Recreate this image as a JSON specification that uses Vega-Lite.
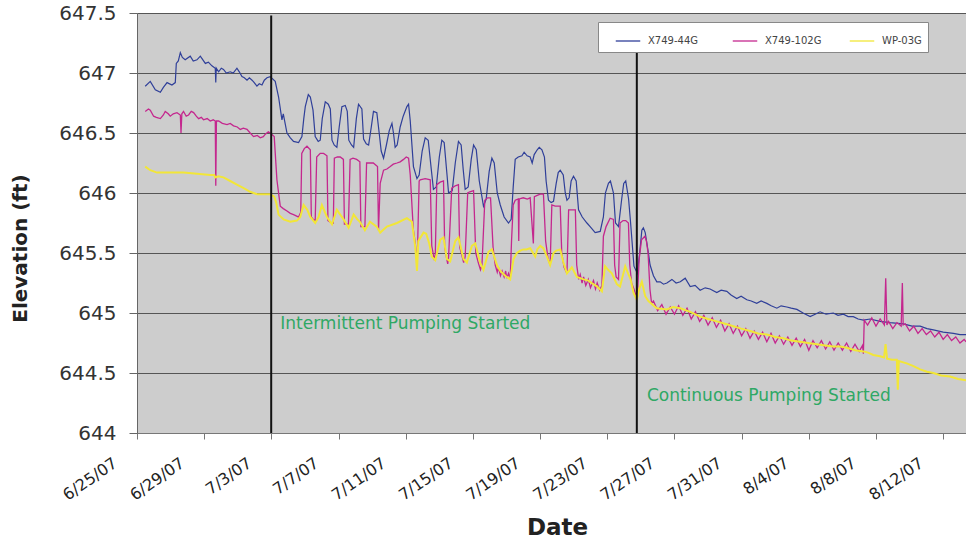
{
  "$schema": "https://vega.github.io/schema/vega-lite/v6.json",
  "width": 829,
  "height": 420,
  "autosize": {"type": "none"},
  "padding": {"left": 137, "top": 13, "right": 0, "bottom": 108},
  "background": "white",
  "config": {
    "view": {"fill": "#cdcdcd", "stroke": null},
    "font": "DejaVu Sans"
  },
  "datasets": {
    "blue": [
      {"d":0.49,"v":646.89},{"d":0.79,"v":646.93},{"d":1.09,"v":646.86},{"d":1.39,"v":646.84},{"d":1.57,"v":646.88},{"d":1.79,"v":646.92},{"d":2.08,"v":646.90},{"d":2.28,"v":646.92},{"d":2.34,"v":647.08},{"d":2.46,"v":647.10},{"d":2.58,"v":647.17},{"d":2.70,"v":647.13},{"d":2.87,"v":647.11},{"d":3.17,"v":647.14},{"d":3.35,"v":647.10},{"d":3.57,"v":647.11},{"d":3.77,"v":647.14},{"d":4.07,"v":647.08},{"d":4.25,"v":647.09},{"d":4.46,"v":647.06},{"d":4.66,"v":647.04},{"d":4.69,"v":646.92},{"d":4.72,"v":647.04},{"d":4.86,"v":647.01},{"d":5.02,"v":647.04},{"d":5.15,"v":647.03},{"d":5.32,"v":647.00},{"d":5.55,"v":647.01},{"d":5.73,"v":647.00},{"d":5.95,"v":647.04},{"d":6.09,"v":647.01},{"d":6.25,"v":646.97},{"d":6.39,"v":646.96},{"d":6.55,"v":646.94},{"d":6.69,"v":646.96},{"d":6.85,"v":646.94},{"d":6.98,"v":646.92},{"d":7.14,"v":646.89},{"d":7.28,"v":646.91},{"d":7.44,"v":646.90},{"d":7.58,"v":646.94},{"d":7.74,"v":646.96},{"d":7.93,"v":646.97},{"d":8.23,"v":646.93},{"d":8.43,"v":646.80},{"d":8.63,"v":646.61},{"d":8.71,"v":646.66},{"d":8.93,"v":646.50},{"d":9.13,"v":646.46},{"d":9.32,"v":646.43},{"d":9.62,"v":646.42},{"d":9.82,"v":646.47},{"d":9.93,"v":646.62},{"d":10.02,"v":646.72},{"d":10.2,"v":646.82},{"d":10.32,"v":646.80},{"d":10.48,"v":646.69},{"d":10.61,"v":646.47},{"d":10.79,"v":646.43},{"d":10.91,"v":646.44},{"d":11.03,"v":646.62},{"d":11.21,"v":646.76},{"d":11.39,"v":646.74},{"d":11.51,"v":646.70},{"d":11.61,"v":646.44},{"d":11.74,"v":646.40},{"d":11.9,"v":646.38},{"d":12.04,"v":646.55},{"d":12.2,"v":646.72},{"d":12.4,"v":646.73},{"d":12.52,"v":646.68},{"d":12.61,"v":646.44},{"d":12.77,"v":646.40},{"d":12.9,"v":646.38},{"d":13.06,"v":646.62},{"d":13.19,"v":646.74},{"d":13.39,"v":646.70},{"d":13.49,"v":646.45},{"d":13.65,"v":646.41},{"d":13.79,"v":646.40},{"d":13.95,"v":646.55},{"d":14.08,"v":646.68},{"d":14.28,"v":646.67},{"d":14.42,"v":646.50},{"d":14.54,"v":646.35},{"d":14.68,"v":646.29},{"d":14.85,"v":646.40},{"d":15.02,"v":646.52},{"d":15.18,"v":646.58},{"d":15.27,"v":646.50},{"d":15.37,"v":646.38},{"d":15.49,"v":646.40},{"d":15.67,"v":646.55},{"d":15.85,"v":646.64},{"d":16.07,"v":646.72},{"d":16.17,"v":646.74},{"d":16.27,"v":646.60},{"d":16.46,"v":646.22},{"d":16.67,"v":646.12},{"d":16.8,"v":646.15},{"d":16.98,"v":646.35},{"d":17.16,"v":646.46},{"d":17.34,"v":646.44},{"d":17.52,"v":646.20},{"d":17.65,"v":646.03},{"d":17.82,"v":646.05},{"d":18.0,"v":646.30},{"d":18.15,"v":646.44},{"d":18.29,"v":646.42},{"d":18.46,"v":646.15},{"d":18.55,"v":646.00},{"d":18.77,"v":646.02},{"d":18.95,"v":646.25},{"d":19.14,"v":646.43},{"d":19.3,"v":646.40},{"d":19.42,"v":646.20},{"d":19.54,"v":646.03},{"d":19.72,"v":646.05},{"d":19.9,"v":646.28},{"d":20.04,"v":646.40},{"d":20.2,"v":646.36},{"d":20.38,"v":646.10},{"d":20.63,"v":645.89},{"d":20.79,"v":645.95},{"d":20.97,"v":646.18},{"d":21.13,"v":646.29},{"d":21.27,"v":646.25},{"d":21.45,"v":646.00},{"d":21.63,"v":645.90},{"d":21.86,"v":645.80},{"d":22.12,"v":645.75},{"d":22.28,"v":645.78},{"d":22.4,"v":646.05},{"d":22.52,"v":646.28},{"d":22.7,"v":646.30},{"d":22.92,"v":646.31},{"d":23.05,"v":646.34},{"d":23.23,"v":646.31},{"d":23.41,"v":646.30},{"d":23.53,"v":646.25},{"d":23.65,"v":646.32},{"d":23.83,"v":646.36},{"d":23.95,"v":646.38},{"d":24.11,"v":646.36},{"d":24.26,"v":646.30},{"d":24.36,"v":646.10},{"d":24.5,"v":645.94},{"d":24.66,"v":645.92},{"d":24.8,"v":645.93},{"d":24.96,"v":646.08},{"d":25.08,"v":646.17},{"d":25.2,"v":646.19},{"d":25.38,"v":646.15},{"d":25.5,"v":646.00},{"d":25.6,"v":645.94},{"d":25.73,"v":645.96},{"d":25.85,"v":646.10},{"d":25.99,"v":646.14},{"d":26.15,"v":646.10},{"d":26.29,"v":645.86},{"d":26.51,"v":645.80},{"d":26.79,"v":645.75},{"d":26.98,"v":645.72},{"d":27.28,"v":645.67},{"d":27.58,"v":645.68},{"d":27.77,"v":645.80},{"d":27.89,"v":646.00},{"d":28.07,"v":646.08},{"d":28.19,"v":646.10},{"d":28.37,"v":646.00},{"d":28.49,"v":645.75},{"d":28.67,"v":645.72},{"d":28.86,"v":645.95},{"d":28.98,"v":646.08},{"d":29.1,"v":646.10},{"d":29.27,"v":645.95},{"d":29.39,"v":645.75},{"d":29.59,"v":645.39},{"d":29.79,"v":645.33},{"d":29.93,"v":645.50},{"d":30.06,"v":645.69},{"d":30.15,"v":645.71},{"d":30.26,"v":645.67},{"d":30.45,"v":645.50},{"d":30.55,"v":645.40},{"d":30.75,"v":645.31},{"d":30.95,"v":645.26},{"d":31.15,"v":645.26},{"d":31.35,"v":645.24},{"d":31.55,"v":645.25},{"d":31.85,"v":645.28},{"d":32.1,"v":645.25},{"d":32.35,"v":645.26},{"d":32.64,"v":645.29},{"d":32.94,"v":645.22},{"d":33.23,"v":645.23},{"d":33.53,"v":645.19},{"d":33.83,"v":645.21},{"d":34.12,"v":645.20},{"d":34.52,"v":645.17},{"d":34.78,"v":645.19},{"d":35.12,"v":645.18},{"d":35.37,"v":645.15},{"d":35.71,"v":645.12},{"d":35.97,"v":645.14},{"d":36.31,"v":645.11},{"d":36.57,"v":645.10},{"d":36.9,"v":645.08},{"d":37.16,"v":645.10},{"d":37.5,"v":645.08},{"d":37.76,"v":645.06},{"d":38.1,"v":645.04},{"d":38.35,"v":645.06},{"d":38.69,"v":645.05},{"d":38.95,"v":645.04},{"d":39.29,"v":645.03},{"d":39.66,"v":645.00},{"d":40.08,"v":644.97},{"d":40.38,"v":644.99},{"d":40.67,"v":645.01},{"d":41.03,"v":644.99},{"d":41.46,"v":645.00},{"d":41.74,"v":644.98},{"d":42.06,"v":644.99},{"d":42.34,"v":644.97},{"d":42.65,"v":644.97},{"d":42.94,"v":644.95},{"d":43.25,"v":644.94},{"d":43.65,"v":644.95},{"d":44.24,"v":644.93},{"d":44.84,"v":644.92},{"d":45.63,"v":644.91},{"d":46.15,"v":644.89},{"d":46.63,"v":644.89},{"d":47.04,"v":644.87},{"d":47.42,"v":644.86},{"d":48.0,"v":644.84},{"d":48.61,"v":644.83},{"d":49.0,"v":644.82},{"d":49.36,"v":644.82}
    ],
    "pink": [
      {"d":0.49,"v":646.68},{"d":0.68,"v":646.70},{"d":0.79,"v":646.69},{"d":0.99,"v":646.64},{"d":1.15,"v":646.63},{"d":1.39,"v":646.62},{"d":1.57,"v":646.65},{"d":1.68,"v":646.68},{"d":1.86,"v":646.66},{"d":1.98,"v":646.64},{"d":2.16,"v":646.66},{"d":2.38,"v":646.67},{"d":2.58,"v":646.65},{"d":2.62,"v":646.50},{"d":2.67,"v":646.66},{"d":2.77,"v":646.68},{"d":2.93,"v":646.64},{"d":3.07,"v":646.65},{"d":3.23,"v":646.68},{"d":3.37,"v":646.67},{"d":3.53,"v":646.64},{"d":3.67,"v":646.62},{"d":3.83,"v":646.63},{"d":3.96,"v":646.61},{"d":4.18,"v":646.62},{"d":4.36,"v":646.60},{"d":4.54,"v":646.61},{"d":4.66,"v":646.60},{"d":4.69,"v":646.06},{"d":4.73,"v":646.60},{"d":4.86,"v":646.60},{"d":5.08,"v":646.58},{"d":5.36,"v":646.57},{"d":5.55,"v":646.58},{"d":5.75,"v":646.56},{"d":5.97,"v":646.55},{"d":6.15,"v":646.53},{"d":6.33,"v":646.54},{"d":6.55,"v":646.53},{"d":6.74,"v":646.50},{"d":6.94,"v":646.47},{"d":7.16,"v":646.48},{"d":7.34,"v":646.46},{"d":7.52,"v":646.47},{"d":7.64,"v":646.49},{"d":7.82,"v":646.51},{"d":7.93,"v":646.50},{"d":8.17,"v":646.47},{"d":8.33,"v":646.11},{"d":8.53,"v":645.89},{"d":8.71,"v":645.87},{"d":8.93,"v":645.85},{"d":9.13,"v":645.83},{"d":9.32,"v":645.82},{"d":9.48,"v":645.81},{"d":9.62,"v":645.80},{"d":9.75,"v":645.84},{"d":9.81,"v":646.33},{"d":9.96,"v":646.37},{"d":10.12,"v":646.39},{"d":10.32,"v":646.36},{"d":10.38,"v":645.80},{"d":10.49,"v":645.78},{"d":10.61,"v":645.77},{"d":10.7,"v":646.30},{"d":10.91,"v":646.33},{"d":11.11,"v":646.33},{"d":11.31,"v":646.31},{"d":11.37,"v":645.77},{"d":11.61,"v":645.75},{"d":11.69,"v":645.75},{"d":11.75,"v":646.29},{"d":11.93,"v":646.30},{"d":12.1,"v":646.30},{"d":12.29,"v":646.28},{"d":12.35,"v":645.74},{"d":12.59,"v":645.74},{"d":12.69,"v":646.28},{"d":12.86,"v":646.29},{"d":13.08,"v":646.28},{"d":13.27,"v":646.26},{"d":13.33,"v":645.72},{"d":13.57,"v":645.72},{"d":13.67,"v":646.25},{"d":13.87,"v":646.25},{"d":14.07,"v":646.25},{"d":14.32,"v":646.22},{"d":14.38,"v":645.69},{"d":14.48,"v":646.08},{"d":14.68,"v":646.19},{"d":14.88,"v":646.20},{"d":15.08,"v":646.22},{"d":15.26,"v":646.24},{"d":15.48,"v":646.25},{"d":15.67,"v":646.26},{"d":15.87,"v":646.28},{"d":16.03,"v":646.30},{"d":16.17,"v":646.29},{"d":16.27,"v":646.15},{"d":16.45,"v":645.70},{"d":16.57,"v":645.58},{"d":16.68,"v":645.40},{"d":16.8,"v":646.10},{"d":16.86,"v":646.11},{"d":17.16,"v":646.12},{"d":17.46,"v":646.11},{"d":17.55,"v":645.56},{"d":17.63,"v":645.50},{"d":17.7,"v":645.44},{"d":17.76,"v":645.49},{"d":17.85,"v":646.07},{"d":18.05,"v":646.09},{"d":18.25,"v":646.10},{"d":18.32,"v":645.55},{"d":18.43,"v":645.46},{"d":18.5,"v":645.41},{"d":18.55,"v":645.46},{"d":18.74,"v":646.04},{"d":18.95,"v":646.06},{"d":19.14,"v":646.07},{"d":19.21,"v":645.55},{"d":19.36,"v":645.47},{"d":19.45,"v":645.42},{"d":19.54,"v":645.47},{"d":19.69,"v":646.00},{"d":19.82,"v":646.01},{"d":20.04,"v":646.02},{"d":20.17,"v":645.50},{"d":20.32,"v":645.42},{"d":20.45,"v":645.36},{"d":20.54,"v":645.40},{"d":20.71,"v":645.94},{"d":20.87,"v":645.96},{"d":21.05,"v":645.96},{"d":21.2,"v":645.55},{"d":21.33,"v":645.40},{"d":21.45,"v":645.34},{"d":21.52,"v":645.38},{"d":21.64,"v":645.31},{"d":21.74,"v":645.35},{"d":21.86,"v":645.30},{"d":21.95,"v":645.35},{"d":22.02,"v":645.29},{"d":22.12,"v":645.33},{"d":22.22,"v":645.28},{"d":22.3,"v":645.60},{"d":22.4,"v":645.90},{"d":22.52,"v":645.94},{"d":22.7,"v":645.95},{"d":22.73,"v":645.60},{"d":22.76,"v":645.95},{"d":23.0,"v":645.96},{"d":23.24,"v":645.95},{"d":23.41,"v":645.96},{"d":23.6,"v":645.58},{"d":23.66,"v":645.97},{"d":23.83,"v":645.98},{"d":24.01,"v":645.99},{"d":24.2,"v":645.99},{"d":24.33,"v":645.60},{"d":24.48,"v":645.45},{"d":24.6,"v":645.40},{"d":24.7,"v":645.90},{"d":24.9,"v":645.89},{"d":25.08,"v":645.89},{"d":25.2,"v":645.89},{"d":25.29,"v":645.50},{"d":25.43,"v":645.38},{"d":25.6,"v":645.33},{"d":25.7,"v":645.86},{"d":25.92,"v":645.86},{"d":26.1,"v":645.86},{"d":26.18,"v":645.40},{"d":26.3,"v":645.28},{"d":26.39,"v":645.32},{"d":26.5,"v":645.25},{"d":26.59,"v":645.30},{"d":26.72,"v":645.23},{"d":26.87,"v":645.28},{"d":27.0,"v":645.21},{"d":27.18,"v":645.27},{"d":27.3,"v":645.20},{"d":27.4,"v":645.25},{"d":27.55,"v":645.19},{"d":27.68,"v":645.23},{"d":27.77,"v":645.64},{"d":27.93,"v":645.72},{"d":28.17,"v":645.79},{"d":28.37,"v":645.78},{"d":28.44,"v":645.40},{"d":28.53,"v":645.30},{"d":28.67,"v":645.28},{"d":28.76,"v":645.75},{"d":28.94,"v":645.77},{"d":29.1,"v":645.77},{"d":29.26,"v":645.75},{"d":29.34,"v":645.40},{"d":29.45,"v":645.25},{"d":29.59,"v":645.20},{"d":29.7,"v":645.15},{"d":29.79,"v":645.12},{"d":29.9,"v":645.45},{"d":30.04,"v":645.61},{"d":30.24,"v":645.64},{"d":30.33,"v":645.60},{"d":30.43,"v":645.50},{"d":30.54,"v":645.20},{"d":30.64,"v":645.08},
      {"d":30.75,"v":645.10},{"d":31.0,"v":645.02},{"d":31.25,"v":645.07},{"d":31.5,"v":644.99},{"d":31.75,"v":645.05},{"d":32.0,"v":644.99},{"d":32.25,"v":645.06},{"d":32.5,"v":644.98},{"d":32.75,"v":645.04},{"d":33.0,"v":644.95},{"d":33.25,"v":645.01},{"d":33.5,"v":644.93},{"d":33.75,"v":644.98},{"d":34.0,"v":644.90},{"d":34.25,"v":644.96},{"d":34.5,"v":644.88},{"d":34.75,"v":644.94},{"d":35.0,"v":644.85},{"d":35.25,"v":644.91},{"d":35.5,"v":644.83},{"d":35.75,"v":644.89},{"d":36.0,"v":644.81},{"d":36.25,"v":644.87},{"d":36.5,"v":644.79},{"d":36.75,"v":644.85},{"d":37.0,"v":644.78},{"d":37.25,"v":644.84},{"d":37.5,"v":644.76},{"d":37.75,"v":644.83},{"d":38.0,"v":644.75},{"d":38.25,"v":644.81},{"d":38.5,"v":644.74},{"d":38.75,"v":644.80},{"d":39.0,"v":644.73},{"d":39.25,"v":644.79},{"d":39.5,"v":644.72},{"d":39.75,"v":644.78},{"d":40.0,"v":644.69},{"d":40.25,"v":644.77},{"d":40.5,"v":644.71},{"d":40.75,"v":644.77},{"d":41.0,"v":644.70},{"d":41.25,"v":644.76},{"d":41.5,"v":644.69},{"d":41.75,"v":644.75},{"d":42.0,"v":644.69},{"d":42.25,"v":644.75},{"d":42.5,"v":644.68},{"d":42.75,"v":644.74},{"d":43.0,"v":644.68},{"d":43.2,"v":644.73},{"d":43.25,"v":644.66},{"d":43.3,"v":644.94},{"d":43.5,"v":644.90},{"d":43.75,"v":644.96},{"d":44.0,"v":644.89},{"d":44.25,"v":644.95},{"d":44.5,"v":644.90},{"d":44.58,"v":645.29},{"d":44.65,"v":644.90},{"d":44.75,"v":644.93},{"d":45.0,"v":644.87},{"d":45.25,"v":644.92},{"d":45.5,"v":644.89},{"d":45.57,"v":645.25},{"d":45.62,"v":644.90},{"d":45.75,"v":644.91},{"d":46.0,"v":644.85},{"d":46.25,"v":644.89},{"d":46.5,"v":644.83},{"d":46.75,"v":644.87},{"d":47.0,"v":644.82},{"d":47.25,"v":644.85},{"d":47.5,"v":644.80},{"d":47.75,"v":644.84},{"d":48.0,"v":644.78},{"d":48.25,"v":644.82},{"d":48.5,"v":644.77},{"d":48.75,"v":644.80},{"d":49.0,"v":644.75},{"d":49.25,"v":644.78},{"d":49.36,"v":644.76}
    ],
    "yellow": [
      {"d":0.49,"v":646.22},{"d":0.79,"v":646.19},{"d":1.19,"v":646.17},{"d":1.98,"v":646.17},{"d":2.77,"v":646.17},{"d":3.57,"v":646.16},{"d":4.36,"v":646.15},{"d":4.6,"v":646.15},{"d":4.66,"v":646.13},{"d":4.84,"v":646.14},{"d":5.15,"v":646.13},{"d":5.55,"v":646.10},{"d":5.95,"v":646.07},{"d":6.35,"v":646.04},{"d":6.74,"v":646.01},{"d":7.14,"v":645.99},{"d":7.54,"v":645.99},{"d":7.93,"v":645.99},{"d":8.17,"v":645.97},{"d":8.29,"v":645.92},{"d":8.43,"v":645.82},{"d":8.73,"v":645.78},{"d":9.13,"v":645.76},{"d":9.52,"v":645.77},{"d":9.72,"v":645.80},{"d":9.92,"v":645.90},{"d":10.14,"v":645.86},{"d":10.32,"v":645.80},{"d":10.61,"v":645.75},{"d":10.81,"v":645.80},{"d":11.01,"v":645.90},{"d":11.31,"v":645.80},{"d":11.61,"v":645.74},{"d":11.9,"v":645.86},{"d":12.1,"v":645.82},{"d":12.3,"v":645.78},{"d":12.6,"v":645.71},{"d":12.9,"v":645.82},{"d":13.12,"v":645.78},{"d":13.27,"v":645.76},{"d":13.57,"v":645.69},{"d":13.87,"v":645.76},{"d":14.27,"v":645.72},{"d":14.48,"v":645.67},{"d":14.88,"v":645.72},{"d":15.48,"v":645.75},{"d":16.07,"v":645.79},{"d":16.37,"v":645.76},{"d":16.57,"v":645.55},{"d":16.67,"v":645.35},{"d":16.75,"v":645.60},{"d":17.06,"v":645.67},{"d":17.22,"v":645.66},{"d":17.4,"v":645.58},{"d":17.55,"v":645.47},{"d":17.76,"v":645.44},{"d":18.05,"v":645.61},{"d":18.25,"v":645.63},{"d":18.45,"v":645.45},{"d":18.65,"v":645.43},{"d":18.95,"v":645.60},{"d":19.14,"v":645.63},{"d":19.44,"v":645.45},{"d":19.64,"v":645.42},{"d":19.94,"v":645.56},{"d":20.14,"v":645.58},{"d":20.43,"v":645.42},{"d":20.63,"v":645.36},{"d":20.93,"v":645.51},{"d":21.13,"v":645.53},{"d":21.43,"v":645.40},{"d":21.63,"v":645.35},{"d":21.92,"v":645.31},{"d":22.22,"v":645.28},{"d":22.42,"v":645.45},{"d":22.62,"v":645.50},{"d":22.82,"v":645.52},{"d":23.02,"v":645.53},{"d":23.18,"v":645.53},{"d":23.41,"v":645.54},{"d":23.71,"v":645.47},{"d":23.83,"v":645.53},{"d":24.01,"v":645.56},{"d":24.19,"v":645.54},{"d":24.41,"v":645.47},{"d":24.6,"v":645.40},{"d":24.8,"v":645.50},{"d":24.96,"v":645.52},{"d":25.2,"v":645.53},{"d":25.39,"v":645.42},{"d":25.6,"v":645.33},{"d":25.89,"v":645.38},{"d":26.19,"v":645.30},{"d":26.59,"v":645.28},{"d":26.87,"v":645.27},{"d":27.18,"v":645.24},{"d":27.4,"v":645.22},{"d":27.68,"v":645.18},{"d":27.87,"v":645.39},{"d":28.05,"v":645.36},{"d":28.27,"v":645.33},{"d":28.57,"v":645.24},{"d":28.76,"v":645.22},{"d":29.07,"v":645.39},{"d":29.24,"v":645.33},{"d":29.39,"v":645.28},{"d":29.56,"v":645.17},{"d":29.76,"v":645.11},{"d":29.9,"v":645.20},{"d":30.06,"v":645.26},{"d":30.26,"v":645.14},{"d":30.45,"v":645.10},{"d":30.95,"v":645.04},{"d":31.55,"v":645.03},{"d":31.92,"v":645.05},{"d":32.35,"v":645.04},{"d":32.94,"v":645.01},{"d":33.53,"v":644.97},{"d":34.0,"v":644.95},{"d":34.52,"v":644.93},{"d":35.01,"v":644.91},{"d":35.51,"v":644.89},{"d":35.97,"v":644.87},{"d":36.51,"v":644.85},{"d":36.98,"v":644.83},{"d":37.5,"v":644.82},{"d":37.99,"v":644.80},{"d":38.49,"v":644.79},{"d":38.95,"v":644.77},{"d":39.48,"v":644.76},{"d":39.96,"v":644.75},{"d":40.48,"v":644.74},{"d":40.98,"v":644.73},{"d":41.46,"v":644.72},{"d":41.86,"v":644.72},{"d":42.26,"v":644.71},{"d":42.76,"v":644.69},{"d":43.25,"v":644.68},{"d":43.53,"v":644.67},{"d":43.84,"v":644.65},{"d":44.24,"v":644.64},{"d":44.48,"v":644.63},{"d":44.57,"v":644.74},{"d":44.66,"v":644.62},{"d":44.95,"v":644.61},{"d":45.24,"v":644.61},{"d":45.3,"v":644.36},{"d":45.36,"v":644.60},{"d":45.83,"v":644.58},{"d":46.2,"v":644.56},{"d":46.63,"v":644.53},{"d":47.04,"v":644.51},{"d":47.42,"v":644.50},{"d":47.88,"v":644.48},{"d":48.41,"v":644.47},{"d":48.89,"v":644.45},{"d":49.36,"v":644.44}
    ],
    "events": [
      {"d":7.99,"top":647.48,"bottom":644},
      {"d":29.76,"top":647.19,"bottom":644}
    ],
    "notes": [
      {"d":8.53,"v":644.91,"t":"Intermittent Pumping Started"},
      {"d":30.36,"v":644.305,"t":"Continuous Pumping Started"}
    ]
  },
  "layer": [
    {
      "data": {"name": "blue"},
      "mark": {"type": "line", "strokeWidth": 1.2, "clip": true},
      "encoding": {
        "x": {
          "field": "d", "type": "quantitative",
          "scale": {"domain": [0, 49.36], "nice": false, "zero": false},
          "axis": {
            "values": [0,4,8,12,16,20,24,28,32,36,40,44,48],
            "labelExpr": "timeFormat(datetime(2007,5,25+datum.value),'%-m/%-d/%y')",
            "labelAngle": -35, "labelAlign": "right", "labelBaseline": "middle",
            "labelFont": "DejaVu Sans", "labelFontSize": 16, "labelColor": "#222",
            "labelPadding": 22, "labelOffset": -22, "labelFlush": false, "labelOverlap": false,
            "grid": false, "tickSize": 6, "tickColor": "#777", "domainColor": "#777",
            "title": "Date", "titleFont": "DejaVu Sans", "titleFontSize": 23, "titleFontWeight": "bold",
            "titleColor": "#222", "titleY": 94, "titleX": 420, "titleBaseline": "middle"
          }
        },
        "y": {
          "field": "v", "type": "quantitative",
          "scale": {"domain": [644, 647.5], "nice": false, "zero": false},
          "axis": {
            "values": [644,644.5,645,645.5,646,646.5,647,647.5],
            "labelExpr": "datum.value + ''",
            "labelFont": "DejaVu Sans", "labelFontSize": 20, "labelColor": "#333",
            "labelPadding": 13, "tickSize": 8, "tickColor": "#666", "domainColor": "#666",
            "grid": true, "gridColor": "#555", "gridWidth": 1,
            "title": "Elevation (ft)", "titleFont": "DejaVu Sans", "titleFontSize": 20,
            "titleFontWeight": "bold", "titleColor": "#222",
            "titleX": -117, "titleY": 235, "titleAngle": -90, "titleAlign": "center", "titleBaseline": "middle"
          }
        },
        "color": {
          "datum": "X749-44G", "type": "nominal",
          "scale": {"domain": ["X749-44G","X749-102G","WP-03G"], "range": ["#2f3f99","#c4278e","#f2e637"]},
          "legend": {
            "orient": "none", "legendX": 461, "legendY": 9, "direction": "horizontal", "columns": 3,
            "title": null, "symbolType": "M-1,0L1,0", "symbolSize": 600, "symbolStrokeWidth": 1.3,
            "labelFont": "DejaVu Sans", "labelFontSize": 10, "labelColor": "#444",
            "fillColor": "white", "strokeColor": "#888", "padding": 6, "columnPadding": 16,
            "symbolOffset": 11, "labelOffset": 7, "gridAlign": "all"
          }
        }
      }
    },
    {
      "data": {"name": "pink"},
      "mark": {"type": "line", "strokeWidth": 1.3, "clip": true},
      "encoding": {
        "x": {"field": "d", "type": "quantitative"},
        "y": {"field": "v", "type": "quantitative"},
        "color": {"datum": "X749-102G", "type": "nominal"}
      }
    },
    {
      "data": {"name": "yellow"},
      "mark": {"type": "line", "strokeWidth": 2, "clip": true},
      "encoding": {
        "x": {"field": "d", "type": "quantitative"},
        "y": {"field": "v", "type": "quantitative"},
        "color": {"datum": "WP-03G", "type": "nominal"}
      }
    },
    {
      "data": {"name": "events"},
      "mark": {"type": "rule", "color": "#111", "strokeWidth": 2},
      "encoding": {
        "x": {"field": "d", "type": "quantitative"},
        "y": {"field": "top", "type": "quantitative"},
        "y2": {"field": "bottom"}
      }
    },
    {
      "data": {"name": "notes"},
      "mark": {"type": "text", "align": "left", "baseline": "middle", "font": "DejaVu Sans", "fontSize": 17, "color": "#2fa865"},
      "encoding": {
        "x": {"field": "d", "type": "quantitative"},
        "y": {"field": "v", "type": "quantitative"},
        "text": {"field": "t"}
      }
    }
  ]
}
